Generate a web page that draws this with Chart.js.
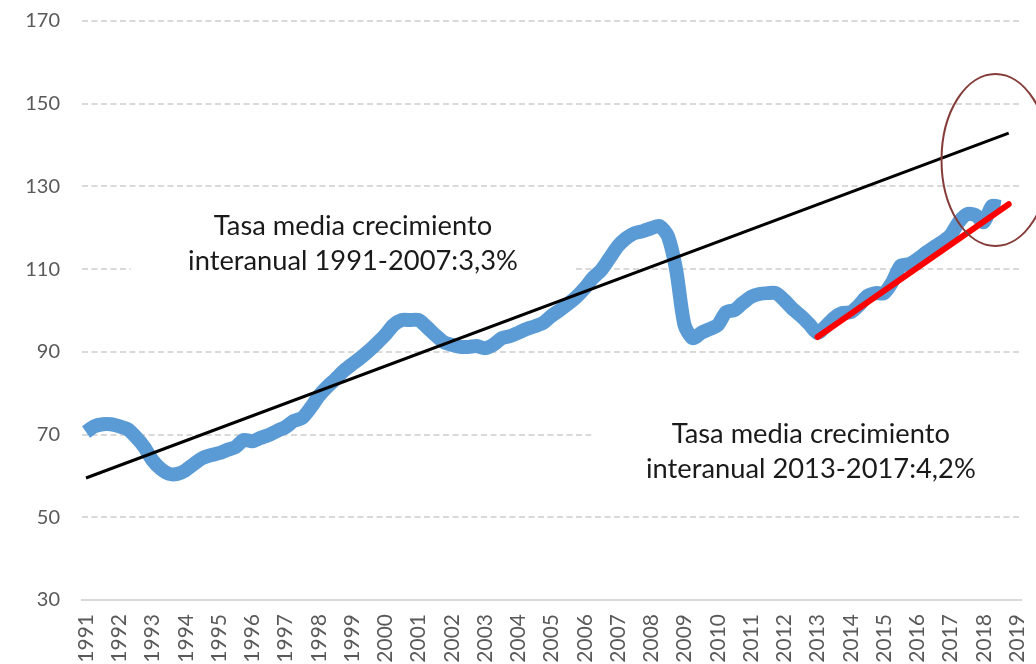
<!DOCTYPE html>
<html>
<head>
<meta charset="utf-8">
<script src="https://cdn.jsdelivr.net/npm/chart.js@4.4.1/dist/chart.umd.min.js"></script>
<style>
  html, body { margin:0; padding:0; background:#fff; overflow:hidden; }
  #chart { display:block; }
</style>
</head>
<body>
<canvas id="chart" width="1036" height="664"></canvas>
<script>
// Índice trimestral 1991-2018 con tendencias
const YEARS = [1991,1992,1993,1994,1995,1996,1997,1998,1999,2000,2001,2002,2003,2004,2005,2006,2007,2008,2009,2010,2011,2012,2013,2014,2015,2016,2017,2018,2019];
const Y_TICKS = [30,50,70,90,110,130,150,170];

// serie trimestral (T1..T4 por año), desde 1991 T1 hasta 2018 T3
const SERIES = [
  70.6, 72.0, 72.5, 72.5,   // 1991
  72.0, 71.3, 69.4, 67.0,   // 1992
  63.8, 61.7, 60.5, 60.5,   // 1993
  61.4, 62.9, 64.3, 65.0,   // 1994
  65.5, 66.3, 67.0, 68.7,   // 1995
  68.4, 69.2, 69.9, 70.9,   // 1996
  71.8, 73.3, 74.0, 76.4,   // 1997
  79.3, 81.5, 83.4, 85.4,   // 1998
  87.0, 88.5, 90.2, 92.1,   // 1999
  94.1, 96.5, 97.7, 97.7,   // 2000
  97.7, 96.0, 94.1, 92.4,   // 2001
  91.7, 91.2, 91.2, 91.4,   // 2002
  90.9, 91.7, 93.3, 93.8,   // 2003
  94.6, 95.5, 96.2, 97.0,   // 2004
  98.7, 100.1, 101.6, 103.3, // 2005
  105.4, 107.9, 109.8, 112.7, // 2006
  115.6, 117.5, 118.7, 119.2, // 2007
  119.9, 120.4, 118.0, 109.8, // 2008
  96.5, 93.3, 94.6, 95.5,   // 2009
  96.5, 99.6, 100.1, 101.8, // 2010
  103.3, 104.0, 104.2, 104.2, // 2011
  102.5, 100.4, 98.7, 96.7, // 2012
  94.6, 96.2, 98.2, 99.4,   // 2013
  99.6, 101.3, 103.5, 104.2, // 2014
  104.2, 106.9, 110.8, 111.2, // 2015
  112.4, 113.9, 115.3, 116.6, // 2016
  118.2, 121.4, 123.3, 123.1, // 2017
  121.4, 125.3, 125.0        // 2018
];

// tendencia 1991-2007 (3,3%) y 2013-2017 (4,2%)
const TREND_LONG_X = [1991, 2018.75];
const TREND_LONG_Y = [59.5, 142.9];
const TREND_SHORT_X = [2013, 2018.75];
const TREND_SHORT_Y = [93.6, 125.7];

const NOTE_1 = ['Tasa media crecimiento', 'interanual 1991-2007:3,3%'];
const NOTE_2 = ['Tasa media crecimiento', 'interanual 2013-2017:4,2%'];

const FONT = 'Lato, "Open Sans", sans-serif';
const BLUE = '#5b9bd5';
const GRID = '#d9d9d9';

const seriesPts = SERIES.map((v, i) => ({ x: YEARS[0] + i / 4, y: v }));
const pair = (xs, ys) => xs.map((x, i) => ({ x, y: ys[i] }));

// text boxes (white background hides the grid behind), ellipse highlight
const notes = {
  id: 'notes',
  beforeDatasetsDraw(chart) {
    const { ctx, scales: { x, y } } = chart;
    ctx.save();
    ctx.fillStyle = '#fff';
    ctx.fillRect(x.getPixelForValue(1992.35), y.getPixelForValue(126.5), x.getPixelForValue(2005.7) - x.getPixelForValue(1992.35), y.getPixelForValue(105) - y.getPixelForValue(126.5));
    ctx.fillRect(x.getPixelForValue(2006.2), y.getPixelForValue(77), chart.width - x.getPixelForValue(2006.2), y.getPixelForValue(54) - y.getPixelForValue(77));
    ctx.restore();
  },
  afterDatasetsDraw(chart) {
    const { ctx, scales: { x, y } } = chart;
    ctx.save();
    // fit font so the second line is ~330px wide
    ctx.font = `28px ${FONT}`;
    const w = ctx.measureText(NOTE_1[1]).width;
    const fs = 28 * 330 / w;
    ctx.font = `${fs}px ${FONT}`;
    ctx.fillStyle = '#1a1a1a';
    ctx.textAlign = 'center';
    ctx.textBaseline = 'alphabetic';
    const drawNote = (lines, cx, b1, b2) => {
      const px = x.getPixelForValue(cx);
      ctx.fillText(lines[0], px, y.getPixelForValue(b1));
      ctx.fillText(lines[1], px, y.getPixelForValue(b2));
    };
    drawNote(NOTE_1, 1999.03, 118.3, 109.8);
    drawNote(NOTE_2, 2012.8, 68.0, 59.5);

    // ellipse around the last years
    const cx = x.getPixelForValue(2018.35), cy = y.getPixelForValue(136.4);
    const rx = x.getPixelForValue(2018.35 + 1.62) - cx;
    const ry = y.getPixelForValue(136.4 - 20.8) - cy;
    ctx.beginPath();
    ctx.ellipse(cx, cy, rx, ry, 0, 0, Math.PI * 2);
    ctx.strokeStyle = '#843c39';
    ctx.lineWidth = 2;
    ctx.stroke();
    ctx.restore();
  }
};

new Chart(document.getElementById('chart'), {
  type: 'line',
  data: {
    datasets: [
      { label: 'Índice', data: seriesPts, borderColor: BLUE, borderWidth: 14, pointRadius: 0,
        tension: 0.25, borderJoinStyle: 'round', borderCapStyle: 'butt', order: 3 },
      { label: 'Tendencia 1991-2007', data: pair(TREND_LONG_X, TREND_LONG_Y), borderColor: '#000',
        borderWidth: 3, pointRadius: 0, order: 2 },
      { label: 'Tendencia 2013-2017', data: pair(TREND_SHORT_X, TREND_SHORT_Y), borderColor: '#ff0000',
        borderWidth: 6, pointRadius: 0, borderCapStyle: 'round', order: 1 },
    ]
  },
  options: {
    responsive: false,
    animation: false,
    layout: { padding: { top: 21, right: 15, left: 0, bottom: 0 } },
    plugins: { legend: { display: false }, tooltip: { enabled: false } },
    scales: {
      x: {
        type: 'linear', min: 1990.88, max: 2019.12,
        afterBuildTicks: (s) => { s.ticks = YEARS.map(v => ({ value: v })); },
        afterFit: (s) => { s.height = 64; s.paddingLeft = 0; s.paddingRight = 0; },
        grid: { display: false, drawTicks: false },
        border: { display: true, color: GRID, width: 2 },
        ticks: { autoSkip: false, minRotation: 90, maxRotation: 90, padding: 14,
          color: '#595959', font: { family: FONT, size: 21 }, callback: (v) => String(v) },
      },
      y: {
        min: 30, max: 170,
        afterBuildTicks: (s) => { s.ticks = Y_TICKS.map(v => ({ value: v })); },
        afterFit: (s) => { s.width = 82; s.paddingTop = 0; s.paddingBottom = 0; },
        grid: { color: (c) => c.tick && c.tick.value === 30 ? 'rgba(0,0,0,0)' : GRID, lineWidth: 2, drawTicks: false },
        border: { display: false, dash: [6, 3.5] },
        ticks: { padding: 22, color: '#595959', font: { family: FONT, size: 20 } },
      }
    }
  },
  plugins: [notes]
});
</script>
</body>
</html>
